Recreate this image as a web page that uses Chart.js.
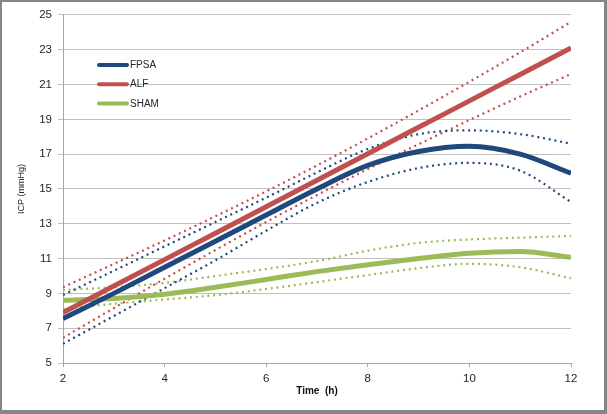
<!DOCTYPE html>
<html>
<head>
<meta charset="utf-8">
<script src="https://cdn.jsdelivr.net/npm/chart.js@4/dist/chart.umd.min.js"></script>
<style>
html, body { margin: 0; padding: 0; background: #fff; }
#frame {
    width: 607px; height: 414px; box-sizing: border-box;
    border-style: solid; border-color: #868686;
    border-width: 2px 3px 4px 2px; background: #fff;
}
canvas { display: block; }
</style>
</head>
<body>
<div id="frame"><canvas id="icpChart" width="602" height="408"></canvas></div>
<script>
// -----------------------
// data
// -----------------------
const hours = [2, 3, 4, 5, 6, 7, 8, 9, 10, 11, 12];

const fpsa      = [7.55, 9.0, 10.5, 12.0, 13.5, 15.0, 16.35, 17.15, 17.45, 17.0, 15.9];
const fpsaUpper = [8.9, 10.3, 11.7, 13.1, 14.5, 15.95, 17.3, 18.15, 18.37, 18.15, 17.6];
const fpsaLower = [6.1, 7.7, 9.3, 10.9, 12.6, 14.2, 15.4, 16.2, 16.5, 16.05, 14.25];

const alf      = [7.9, 9.42, 10.94, 12.46, 13.98, 15.5, 17.02, 18.54, 20.06, 21.58, 23.1];
const alfUpper = [9.35, 10.69, 12.04, 13.43, 14.86, 16.35, 17.9, 19.51, 21.16, 22.85, 24.6];
const alfLower = [6.45, 8.15, 9.84, 11.49, 13.1, 14.65, 16.14, 17.57, 18.96, 20.31, 21.6];

const sham      = [8.6, 8.7, 8.95, 9.35, 9.8, 10.25, 10.65, 11.0, 11.3, 11.4, 11.07];
const shamUpper = [9.2, 9.35, 9.6, 10.0, 10.4, 10.85, 11.45, 11.9, 12.1, 12.2, 12.3];
const shamLower = [8.1, 8.4, 8.65, 8.9, 9.25, 9.65, 10.05, 10.45, 10.7, 10.5, 9.87];

const yTicks = [5, 7, 9, 11, 13, 15, 17, 19, 21, 23, 25];
const xTicks = [2, 4, 6, 8, 10, 12];

const BLUE = "#1f497d";
const RED = "#c0504d";
const GREEN = "#9bbb59";
const FONT = "'Liberation Sans', Arial, sans-serif";

const pts = arr => hours.map((h, i) => ({ x: h, y: arr[i] }));

function solid(label, arr, color) {
    return {
        label: label, data: pts(arr), inLegend: true,
        borderColor: color, borderWidth: 5, pointRadius: 0,
        cubicInterpolationMode: "monotone", order: 0
    };
}
function dotted(arr, color) {
    return {
        label: "", data: pts(arr), inLegend: false,
        borderColor: color, borderWidth: 2.2, borderDash: [2, 3.8], pointRadius: 0,
        cubicInterpolationMode: "monotone", order: 1
    };
}

// 凡例（プロット内左上）
const insideLegend = {
    id: "insideLegend",
    afterDatasetsDraw(chart) {
        const { ctx, chartArea } = chart;
        const items = chart.data.datasets.filter(d => d.inLegend);
        ctx.save();
        ctx.font = "10px " + FONT;
        ctx.textBaseline = "middle";
        items.forEach((d, i) => {
            const y = chartArea.top + 50 + i * 19.3;
            const x0 = chartArea.left + 36;
            ctx.strokeStyle = d.borderColor;
            ctx.lineWidth = 4;
            ctx.lineCap = "round";
            ctx.beginPath();
            ctx.moveTo(x0, y);
            ctx.lineTo(x0 + 28, y);
            ctx.stroke();
            ctx.fillStyle = "#262626";
            ctx.fillText(d.label, x0 + 31, y + 0.5);
        });
        ctx.restore();
    }
};

new Chart(document.getElementById("icpChart").getContext("2d"), {
    type: "line",
    data: {
        datasets: [
            dotted(fpsaUpper, BLUE), dotted(fpsaLower, BLUE),
            dotted(alfUpper, RED), dotted(alfLower, RED),
            dotted(shamUpper, GREEN), dotted(shamLower, GREEN),
            solid("FPSA", fpsa, BLUE),
            solid("ALF", alf, RED),
            solid("SHAM", sham, GREEN)
        ]
    },
    options: {
        responsive: false,
        animation: false,
        devicePixelRatio: 1,
        layout: { padding: { top: 11, right: 33, left: 0, bottom: 0 } },
        plugins: { legend: { display: false }, tooltip: { enabled: false } },
        scales: {
            x: {
                type: "linear", min: 2, max: 12,
                afterFit: s => { s.height = 47; },
                afterBuildTicks: s => { s.ticks = xTicks.map(v => ({ value: v })); },
                ticks: { color: "#262626", font: { size: 11.5, family: FONT }, padding: 5, maxRotation: 0 },
                grid: { drawOnChartArea: false, tickLength: 4, color: "#a6a6a6" },
                border: { color: "#a6a6a6" },
                title: {
                    display: true, text: "Time  (h)", color: "#111",
                    font: { size: 10, weight: "bold", family: FONT },
                    padding: { top: 0, bottom: 13 }
                }
            },
            y: {
                min: 5, max: 25,
                afterFit: s => { s.width = 61; },
                afterBuildTicks: s => { s.ticks = yTicks.map(v => ({ value: v })); },
                ticks: { color: "#262626", font: { size: 11.5, family: FONT }, padding: 6 },
                grid: { color: "#c0c0c0", tickLength: 5 },
                border: { color: "#a6a6a6" },
                title: {
                    display: true, text: "ICP (mmHg)", color: "#262626",
                    font: { size: 9, family: FONT },
                    padding: { top: 14, bottom: 0 }
                }
            }
        }
    },
    plugins: [insideLegend]
});
</script>
</body>
</html>
